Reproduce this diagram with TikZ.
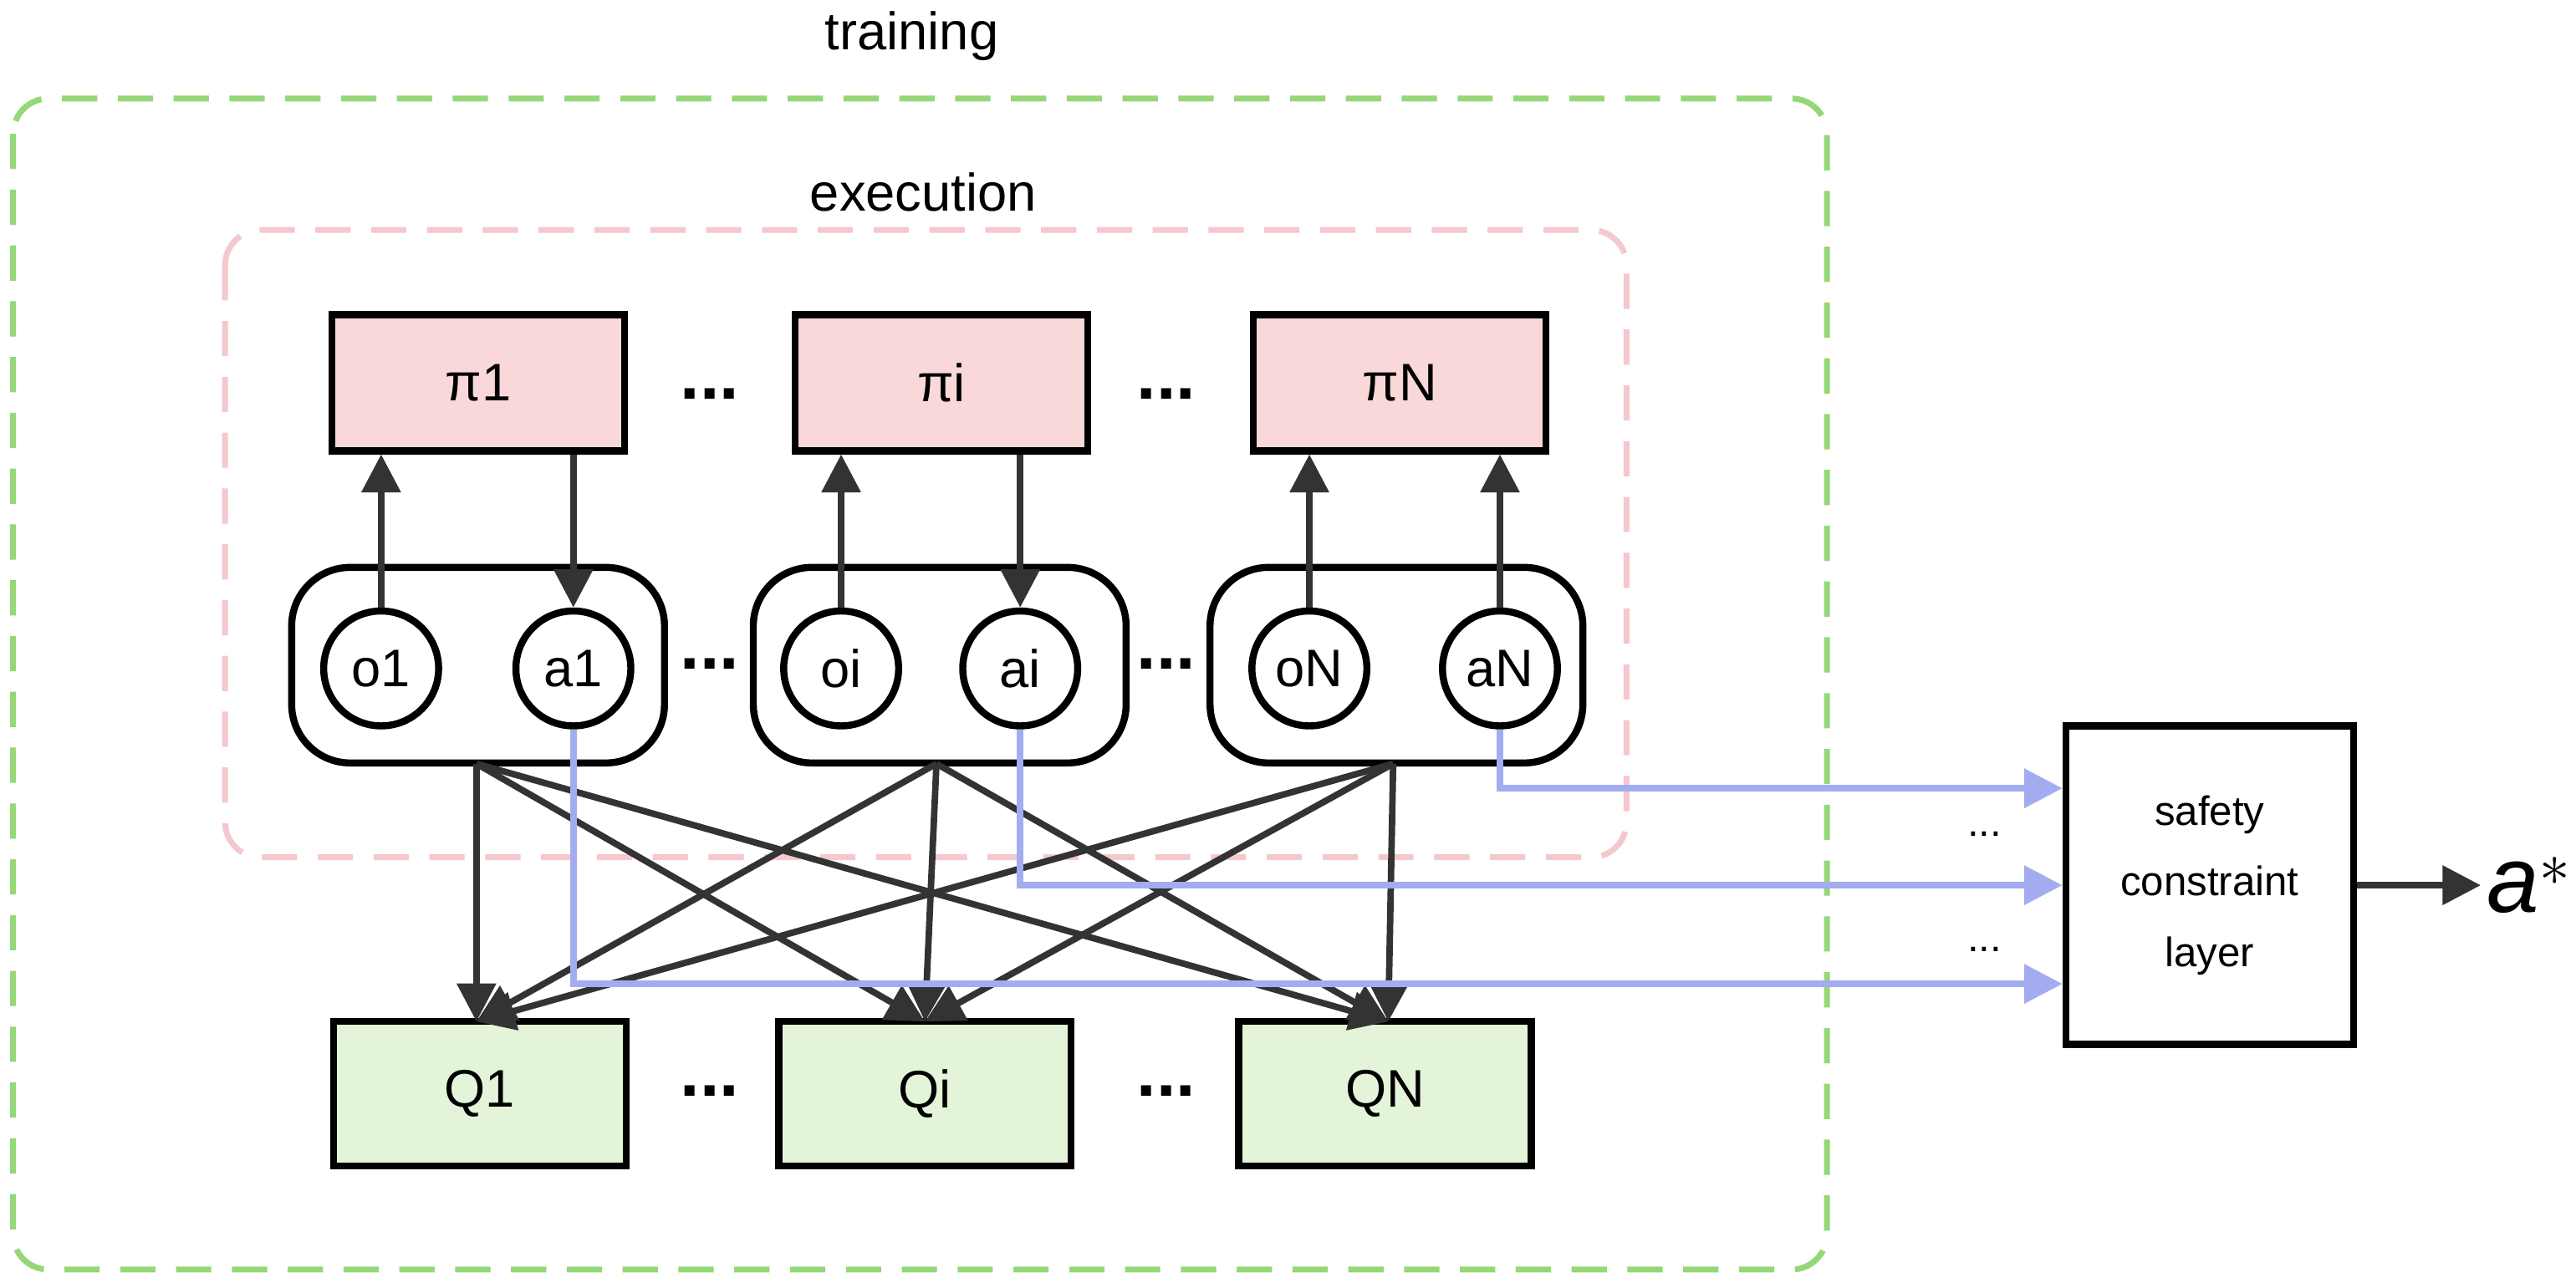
\documentclass[tikz,border=0pt]{standalone}
\usepackage{fontspec}
\setmainfont{Liberation Sans}
\usetikzlibrary{arrows.meta}
\definecolor{pinkf}{HTML}{F8D8D8}
\definecolor{greenf}{HTML}{E3F4D9}
\definecolor{bl}{HTML}{A3ACF0}
\definecolor{dk}{HTML}{333333}
\begin{document}
\begin{tikzpicture}[x=0.01965cm,y=-0.01965cm,
  box/.style={draw=black,line width=2.4pt,minimum width=3.5cm,minimum height=1.63cm,font=\fontsize{18}{22}\selectfont},
  grp/.style={draw=black,line width=2.4pt,rounded corners=0.7cm,minimum width=4.46cm,minimum height=2.34cm},
  circ/.style={draw=black,line width=2.4pt,circle,minimum size=1.375cm,inner sep=0pt,font=\fontsize{18}{22}\selectfont},
  arr/.style={draw=dk,line width=2.2pt,-{Triangle[length=13pt,width=13pt]}},
  barr/.style={draw=bl,line width=2.2pt,-{Triangle[length=13pt,width=13pt]}},
  dots/.style={font=\fontsize{24}{28}\selectfont\bfseries},
  lab/.style={font=\fontsize{18}{22}\selectfont}]
\useasboundingbox (0,0) rectangle (1568,784);
\fill[white] (0,0) rectangle (1568,784);
\node[lab] (tr) at (555,22) {training};
\draw[draw={rgb,255:red,150;green,215;blue,120},dash pattern=on 12pt off 7pt,line width=2pt,rounded corners=12pt] (8,60) rectangle (1112,773);
\node[lab] (ex) at (562,117) {execution};
\draw[draw={rgb,255:red,245;green,200;blue,205},dash pattern=on 12pt off 7pt,line width=2pt,rounded corners=12pt] (137,140) rectangle (990,522);
\node[box,fill=pinkf] (p1) at (291,233) {π1};
\node[box,fill=pinkf] (pi) at (573,233) {πi};
\node[box,fill=pinkf] (pN) at (852,233) {πN};
\node[dots] (d1) at (432,240) {...};
\node[dots] (d2) at (710,240) {...};
\node[grp] (g1) at (291,405) {};
\node[grp] (g2) at (572,405) {};
\node[grp] (g3) at (850,405) {};
\node[circ] (o1) at (232,407) {o1};
\node[circ] (a1) at (349,407) {a1};
\node[circ] (oi) at (512,407) {oi};
\node[circ] (ai) at (621,407) {ai};
\node[circ] (oN) at (797,407) {oN};
\node[circ] (aN) at (913,407) {aN};
\node[dots] (d3) at (432,404) {...};
\node[dots] (d4) at (710,404) {...};
\draw[arr] (o1.north) -- (o1.north|-p1.south);
\draw[arr] (a1.north|-p1.south) -- (a1.north);
\draw[arr] (oi.north) -- (oi.north|-pi.south);
\draw[arr] (ai.north|-pi.south) -- (ai.north);
\draw[arr] (oN.north) -- (oN.north|-pN.south);
\draw[arr] (aN.north) -- (aN.north|-pN.south);
\node[box,fill=greenf,minimum height=1.73cm] (q1) at (292,666) {Q1};
\node[box,fill=greenf,minimum height=1.73cm] (qi) at (563,666) {Qi};
\node[box,fill=greenf,minimum height=1.73cm] (qN) at (843,666) {QN};
\node[dots] (d5) at (432,664) {...};
\node[dots] (d6) at (710,664) {...};
\coordinate (s1) at (290,465);\coordinate (s2) at (570,465);\coordinate (s3) at (848,465);
\coordinate (t1) at (290,622);\coordinate (t2) at (563,622);\coordinate (t3) at (845,622);
\foreach \s in {s1,s2,s3}{\foreach \t in {t1,t2,t3}{\draw[arr] (\s) -- (\t);}}
\node[draw=black,line width=2.4pt,minimum width=3.44cm,minimum height=3.81cm,align=center,font=\fontsize{14}{24}\selectfont] (sc) at (1345,539) {safety\\constraint\\layer};
\draw[barr] (a1.south) |- ([yshift=-1.18cm]sc.west);
\draw[barr] (ai.south) |- (sc.west);
\draw[barr] (aN.south) |- ([yshift=1.16cm]sc.west);
\node[font=\fontsize{14}{18}\selectfont] (e1) at (1208,508) {...};
\node[font=\fontsize{14}{18}\selectfont] (e2) at (1208,578) {...};
\coordinate (ae) at (1510,539);
\draw[arr] (sc.east) -- (ae);
\node[anchor=west,font=\fontsize{32}{36}\selectfont,inner sep=2pt] (as) at (ae) {\textit{a}$^{*}$};
\end{tikzpicture}
\end{document}
